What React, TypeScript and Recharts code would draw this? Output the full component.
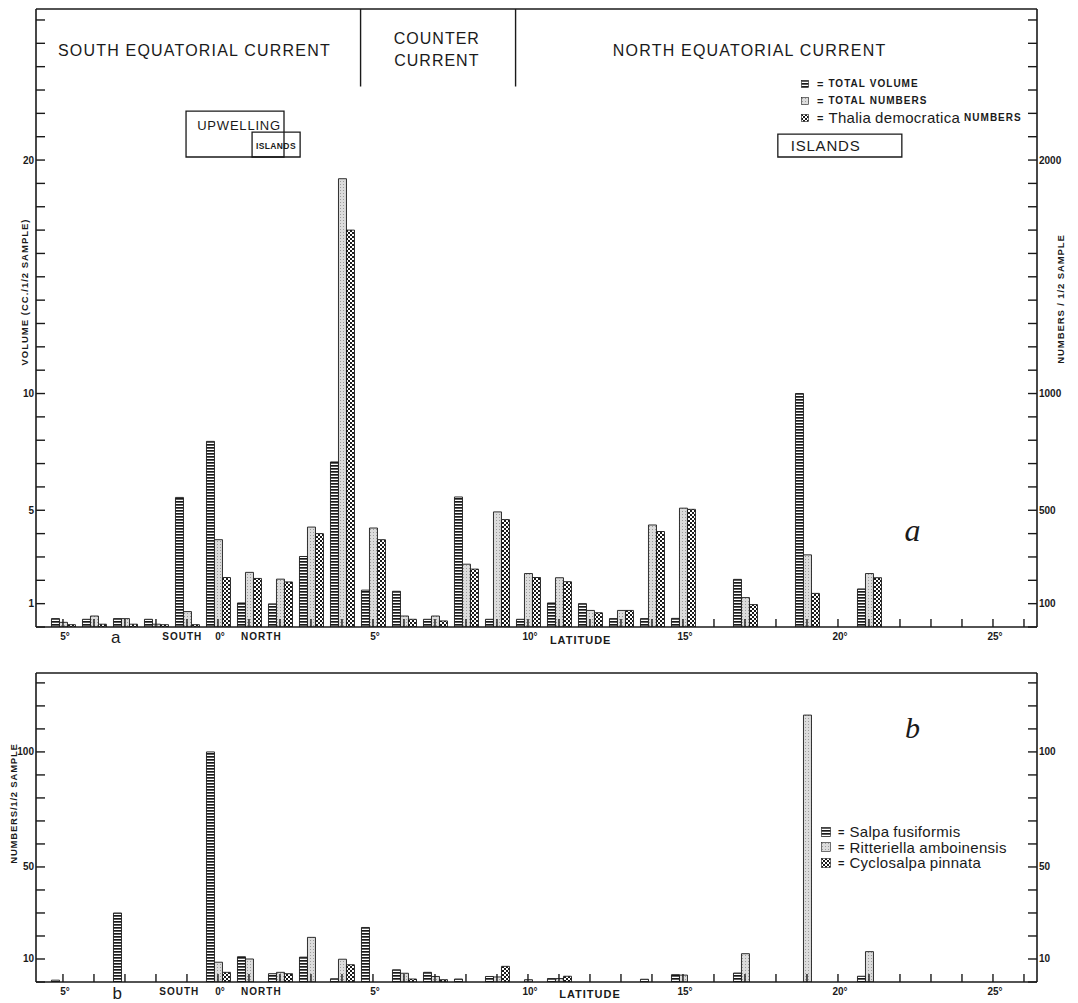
import React from 'react';
import { BarChart, Bar, XAxis, YAxis, ReferenceLine, ReferenceArea, ReferenceDot, Legend } from 'recharts';

// ---------- data ----------
const stations = [-5, -4, -3, -2, -1, 0, 1, 2, 3, 4, 5, 6, 7, 8, 9, 10, 11, 12, 13, 14, 15, 17, 19, 21];

// panel a
const totalVolume = [0.36, 0.33, 0.36, 0.33, 5.55, 7.95, 1.03, 0.99, 3.02, 7.07, 1.58, 1.53, 0.33, 5.57, 0.33, 0.33, 1.03, 1.0, 0.36, 0.36, 0.37, 2.04, 10.0, 1.63];
const totalNumbers = [20, 47, 36, 12, 66, 374, 234, 205, 428, 1920, 424, 47, 47, 269, 493, 229, 211, 71, 71, 437, 509, 126, 309, 229];
const thaliaNumbers = [10, 12, 12, 10, 10, 212, 208, 193, 400, 1700, 374, 33, 26, 248, 460, 212, 194, 61, 71, 409, 504, 96, 144, 211];

// panel b
const salpaFusiformis = [0.8, null, 30, null, null, 100, 11, 3.6, 10.8, 1.4, 23.7, 5.3, 4.2, 1.3, 2.4, null, 1.5, null, null, 1.2, 3.2, 3.9, null, 2.5];
const ritteriellaAmboinensis = [null, null, null, null, null, 8.6, 10, 4.2, 19.4, 9.9, null, 3.8, 2.4, null, 2.2, 1.0, 1.5, null, null, null, 3.0, 12.3, 116, 13.2];
const cyclosalpaPinnata = [null, null, null, null, null, 4.2, null, 3.6, null, 7.5, null, 1.3, 1.0, null, 6.8, null, 2.5, null, null, null, null, null, null, null];

// series names (legend order)
const seriesNamesA = ['TOTAL VOLUME', 'TOTAL NUMBERS', 'Thalia democratica NUMBERS'];
const seriesNamesB = ['Salpa fusiformis', 'Ritteriella amboinensis', 'Cyclosalpa pinnata'];

// axes
const latitudeTicks = [-5, -4, -3, -2, -1, 0, 1, 2, 3, 4, 5, 6, 7, 8, 9, 10, 11, 12, 13, 14, 15, 16, 17, 18, 19, 20, 21, 22, 23, 24, 25, 26];
const latitudeLabels: Record<number, string> = { [-5]: '5°', 0: '0°', 5: '5°', 10: '10°', 15: '15°', 20: '20°', 25: '25°' };
const volumeTicks = [0, 1, 2, 3, 4, 5, 6, 7, 8, 9, 10, 11, 12, 13, 14, 15, 16, 17, 18, 19, 20, 21, 22, 23, 24, 25, 26];
const volumeLabels: Record<number, string> = { 1: '1', 5: '5', 10: '10', 20: '20' };
const numberTicks = [0, 100, 200, 300, 400, 500, 600, 700, 800, 900, 1000, 1100, 1200, 1300, 1400, 1500, 1600, 1700, 1800, 1900, 2000, 2100, 2200, 2300, 2400, 2500, 2600];
const numberLabels: Record<number, string> = { 100: '100', 500: '500', 1000: '1000', 2000: '2000' };
const panelBTicks = [0, 10, 20, 30, 40, 50, 60, 70, 80, 90, 100, 110, 120, 130];
const panelBLabels: Record<number, string> = { 10: '10', 50: '50', 100: '100' };

const LAT_DOMAIN: [number, number] = [-5.87, 26.42];
const VOL_MAX = 26.47;
const NUM_MAX = 2647;
const B_MAX = 134.3;

const dataA = stations.map((lat, i) => ({ lat, vol: totalVolume[i], num: totalNumbers[i], thalia: thaliaNumbers[i] }));
const dataB = stations.map((lat, i) => ({ lat, salpa: salpaFusiformis[i], ritt: ritteriellaAmboinensis[i], cyclo: cyclosalpaPinnata[i] }));

// ---------- annotations ----------
const INK = '#1a1a1a';
const SANS = "'Liberation Sans', 'DejaVu Sans', sans-serif";
const SERIF = "'Liberation Serif', 'DejaVu Serif', serif";

type Note = { lat: number; v: number; text: string; size: number; weight?: number; spacing?: number; family?: string; italic?: boolean };

const headerNotes: Note[] = [
  { lat: -0.76, v: 24.69, text: 'SOUTH EQUATORIAL CURRENT', size: 16, spacing: 1.2 },
  { lat: 7.06, v: 25.2, text: 'COUNTER', size: 16, spacing: 1.0 },
  { lat: 7.06, v: 24.28, text: 'CURRENT', size: 16, spacing: 1.0 },
  { lat: 17.15, v: 24.69, text: 'NORTH EQUATORIAL CURRENT', size: 16, spacing: 1.2 },
  { lat: 0.68, v: 21.5, text: 'UPWELLING', size: 13, spacing: 0.8 },
  { lat: 1.87, v: 20.62, text: 'ISLANDS', size: 8.5, weight: 700, spacing: 0.4 },
  { lat: 19.6, v: 20.62, text: 'ISLANDS', size: 15, spacing: 0.8 },
  { lat: 22.4, v: 4.15, text: 'a', size: 32, family: SERIF, italic: true },
];
const panelBNotes: Note[] = [
  { lat: 22.4, v: 110.5, text: 'b', size: 30, family: SERIF, italic: true },
];
const dividers = [4.6, 9.6];
const DIVIDER_BOTTOM = 23.15;
const boxes = [
  { x1: -1.03, x2: 2.13, y1: 20.13, y2: 22.1 },
  { x1: 1.1, x2: 2.65, y1: 20.13, y2: 21.2 },
  { x1: 18.06, x2: 22.06, y1: 20.13, y2: 21.11 },
];
type Word = { lat: number; text: string; dy: number; size: number; weight?: number; spacing?: number; family?: string };
const axisWordsA: Word[] = [
  { lat: -1.15, text: 'SOUTH', dy: 13, size: 10, weight: 700, spacing: 1 },
  { lat: 1.4, text: 'NORTH', dy: 13, size: 10, weight: 700, spacing: 1 },
  { lat: 11.7, text: 'LATITUDE', dy: 17, size: 11, weight: 700, spacing: 1 },
  { lat: -3.3, text: 'a', dy: 16, size: 17, weight: 400 },
];
const axisWordsB: Word[] = [
  { lat: -1.25, text: 'SOUTH', dy: 13, size: 10, weight: 700, spacing: 1 },
  { lat: 1.4, text: 'NORTH', dy: 13, size: 10, weight: 700, spacing: 1 },
  { lat: 12.0, text: 'LATITUDE', dy: 16, size: 11, weight: 700, spacing: 1 },
  { lat: -3.25, text: 'b', dy: 17, size: 17, weight: 400 },
];

// ---------- helpers ----------
const vbCenter = (p: any) => {
  const vb = p && p.viewBox;
  if (!vb) return null;
  return { cx: vb.x + (vb.width || 0) / 2, cy: vb.y + (vb.height || 0) / 2 };
};

const noteLabel = (n: Note) => (p: any) => {
  const c = vbCenter(p);
  if (!c) return null;
  return (
    <text x={c.cx} y={c.cy} textAnchor="middle" dominantBaseline="central" fontFamily={n.family || SANS}
      fontSize={n.size} fontWeight={n.weight || 400} fontStyle={n.italic ? 'italic' : 'normal'}
      letterSpacing={n.spacing || 0} fill={INK}>{n.text}</text>
  );
};

const wordLabel = (w: Word) => (p: any) => {
  const c = vbCenter(p);
  if (!c) return null;
  return (
    <text x={c.cx} y={c.cy + w.dy} textAnchor="middle" fontFamily={w.family || SANS}
      fontSize={w.size} fontWeight={w.weight || 400} letterSpacing={w.spacing || 0} fill={INK}>{w.text}</text>
  );
};

const yTick = (labels: Record<number, string>, side: 'left' | 'right') => (props: any) => {
  const { x, y, payload } = props;
  const lab = labels[payload.value];
  const dir = side === 'left' ? 1 : -1;
  return (
    <g>
      <line x1={x} x2={x + dir * 9} y1={y} y2={y} stroke={INK} strokeWidth={1.4} />
      {lab ? (
        <text x={side === 'left' ? x - 2 : x + 2} y={y + 3.5} textAnchor={side === 'left' ? 'end' : 'start'}
          fontFamily={SANS} fontWeight={700} fontSize={10} fill={INK}>{lab}</text>
      ) : null}
    </g>
  );
};

const xTick = (labels: Record<number, string>) => (props: any) => {
  const { x, y, payload } = props;
  const lab = labels[payload.value];
  return (
    <g>
      <line x1={x} x2={x} y1={y} y2={y - 8} stroke={INK} strokeWidth={1.4} />
      {lab ? (
        <text x={x + 2} y={y + 13} textAnchor="middle" fontFamily={SANS} fontWeight={700} fontSize={10} fill={INK}>{lab}</text>
      ) : null}
    </g>
  );
};

const axisTitle = (text: string, cxOffset: number, dyOffset: number, size: number, spacing: number) => (p: any) => {
  const vb = p && p.viewBox;
  if (!vb) return null;
  const cx = vb.x + cxOffset;
  const cy = vb.y + vb.height / 2 + dyOffset;
  return (
    <text x={cx} y={cy} transform={`rotate(-90 ${cx} ${cy})`} textAnchor="middle" dominantBaseline="central"
      fontFamily={SANS} fontWeight={700} fontSize={size} letterSpacing={spacing} fill={INK}>{text}</text>
  );
};

const Patterns = ({ p }: { p: string }) => (
  <defs>
    <pattern id={`${p}-stripe`} width="4" height="3" patternUnits="userSpaceOnUse">
      <rect width="4" height="3" fill="#ffffff" />
      <rect width="4" height="1.7" fill="#1a1a1a" />
    </pattern>
    <pattern id={`${p}-stipple`} width="3" height="3" patternUnits="userSpaceOnUse">
      <rect width="3" height="3" fill="#dcdcdc" />
      <rect x="1" y="1" width="1" height="1" fill="#9c9c9c" />
    </pattern>
    <pattern id={`${p}-check`} width="4" height="4" patternUnits="userSpaceOnUse">
      <rect width="4" height="4" fill="#ffffff" />
      <rect width="2" height="2" fill="#1a1a1a" />
      <rect x="2" y="2" width="2" height="2" fill="#1a1a1a" />
    </pattern>
  </defs>
);

const nameParts = (name: string, small: boolean) =>
  name.split(' ').map((w, i) => {
    const upper = w === w.toUpperCase();
    return (
      <span key={i} style={{
        fontSize: upper && small ? 10 : 15,
        fontWeight: upper && small ? 700 : 400,
        letterSpacing: upper && small ? 1 : 0.3,
        marginRight: 4,
      }}>{w}</span>
    );
  });

const legendContent = (order: string[], rowH: number, icon: number, gap1: number, small: boolean) => (props: any) => {
  const payload = [...(props.payload || [])].sort(
    (a: any, b: any) => order.indexOf(String(a.value)) - order.indexOf(String(b.value)),
  );
  return (
    <div style={{ fontFamily: SANS, color: INK }}>
      {payload.map((e: any, i: number) => (
        <div key={i} style={{ display: 'flex', alignItems: 'center', height: rowH, whiteSpace: 'nowrap' }}>
          <svg width={icon} height={icon} style={{ display: 'block' }}>
            <rect x={0.5} y={0.5} width={icon - 1} height={icon - 1} fill={e.color} stroke={INK} strokeWidth={0.6} />
          </svg>
          <span style={{ fontSize: 11, fontWeight: 700, marginLeft: gap1, marginRight: 5 }}>=</span>
          {nameParts(String(e.value), small)}
        </div>
      ))}
    </div>
  );
};

// ---------- app ----------
export default function App() {
  return (
    <div style={{ position: 'absolute', left: 0, top: 0, width: 1078, height: 1003, background: '#fff', overflow: 'hidden' }}>
      <div style={{ position: 'absolute', left: 0, top: 0 }}>
        <BarChart width={1078} height={660} data={dataA} margin={{ top: 9, right: 0, bottom: 0, left: 0 }} barGap={0} barCategoryGap={0}>
          <Patterns p="pa" />
          <XAxis dataKey="lat" type="number" domain={LAT_DOMAIN} allowDataOverflow ticks={latitudeTicks} interval={0}
            height={33} tickSize={0} tickMargin={0} tickLine={false} axisLine={{ stroke: INK, strokeWidth: 1.6 }} tick={xTick(latitudeLabels)} />
          <YAxis yAxisId="vol" orientation="left" width={36} domain={[0, VOL_MAX]} allowDataOverflow ticks={volumeTicks} interval={0}
            tickSize={0} tickMargin={0} tickLine={false} axisLine={{ stroke: INK, strokeWidth: 1.6 }} tick={yTick(volumeLabels, 'left')}
            label={{ content: axisTitle('VOLUME (CC./1/2 SAMPLE)', 24, -26, 9.5, 1.0) }} />
          <YAxis yAxisId="num" orientation="right" width={41} domain={[0, NUM_MAX]} allowDataOverflow ticks={numberTicks} interval={0}
            tickSize={0} tickMargin={0} tickLine={false} axisLine={{ stroke: INK, strokeWidth: 1.6 }} tick={yTick(numberLabels, 'right')}
            label={{ content: axisTitle('NUMBERS / 1/2 SAMPLE', 23, -19, 9.5, 0.9) }} />
          <ReferenceLine yAxisId="vol" y={VOL_MAX} stroke={INK} strokeWidth={1.6} ifOverflow="visible" />
          {dividers.map((d, i) => (
            <ReferenceLine key={'d' + i} yAxisId="vol" segment={[{ x: d, y: VOL_MAX }, { x: d, y: DIVIDER_BOTTOM }]} stroke={INK} strokeWidth={1.4} ifOverflow="visible" />
          ))}
          {boxes.map((b, i) => (
            <ReferenceArea key={'b' + i} yAxisId="vol" x1={b.x1} x2={b.x2} y1={b.y1} y2={b.y2} fill="none" fillOpacity={0} stroke={INK} strokeWidth={1.3} ifOverflow="visible" />
          ))}
          {headerNotes.map((n, i) => (
            <ReferenceDot key={'n' + i} yAxisId="vol" x={n.lat} y={n.v} r={0} fill="none" stroke="none" ifOverflow="visible" label={{ content: noteLabel(n) }} />
          ))}
          {axisWordsA.map((w, i) => (
            <ReferenceDot key={'w' + i} yAxisId="vol" x={w.lat} y={0} r={0} fill="none" stroke="none" ifOverflow="visible" label={{ content: wordLabel(w) }} />
          ))}
          <Legend layout="vertical" align="center" verticalAlign="middle" wrapperStyle={{ left: 801, top: 75, width: 240 }}
            content={legendContent(seriesNamesA, 17, 8, 8, true)} />
          <Bar name={seriesNamesA[0]} dataKey="vol" yAxisId="vol" barSize={8} fill="url(#pa-stripe)" stroke={INK} strokeWidth={0.9} isAnimationActive={false} />
          <Bar name={seriesNamesA[1]} dataKey="num" yAxisId="num" barSize={8} fill="url(#pa-stipple)" stroke={INK} strokeWidth={0.9} isAnimationActive={false} />
          <Bar name={seriesNamesA[2]} dataKey="thalia" yAxisId="num" barSize={8} fill="url(#pa-check)" stroke={INK} strokeWidth={0.9} isAnimationActive={false} />
        </BarChart>
      </div>
      <div style={{ position: 'absolute', left: 0, top: 660 }}>
        <BarChart width={1078} height={343} data={dataB} margin={{ top: 13, right: 0, bottom: 0, left: 0 }} barGap={0} barCategoryGap={0}>
          <Patterns p="pb" />
          <XAxis dataKey="lat" type="number" domain={LAT_DOMAIN} allowDataOverflow ticks={latitudeTicks} interval={0}
            height={21} tickSize={0} tickMargin={0} tickLine={false} axisLine={{ stroke: INK, strokeWidth: 1.6 }} tick={xTick(latitudeLabels)} />
          <YAxis yAxisId="l" orientation="left" width={36} domain={[0, B_MAX]} allowDataOverflow ticks={panelBTicks} interval={0}
            tickSize={0} tickMargin={0} tickLine={false} axisLine={{ stroke: INK, strokeWidth: 1.6 }} tick={yTick(panelBLabels, 'left')}
            label={{ content: axisTitle('NUMBERS/1/2 SAMPLE', 13, -24, 9.5, 0.8) }} />
          <YAxis yAxisId="r" orientation="right" width={41} domain={[0, B_MAX]} allowDataOverflow ticks={panelBTicks} interval={0}
            tickSize={0} tickMargin={0} tickLine={false} axisLine={{ stroke: INK, strokeWidth: 1.6 }} tick={yTick(panelBLabels, 'right')} />
          <ReferenceLine yAxisId="l" y={B_MAX} stroke={INK} strokeWidth={1.6} ifOverflow="visible" />
          {panelBNotes.map((n, i) => (
            <ReferenceDot key={'n' + i} yAxisId="l" x={n.lat} y={n.v} r={0} fill="none" stroke="none" ifOverflow="visible" label={{ content: noteLabel(n) }} />
          ))}
          {axisWordsB.map((w, i) => (
            <ReferenceDot key={'w' + i} yAxisId="l" x={w.lat} y={0} r={0} fill="none" stroke="none" ifOverflow="visible" label={{ content: wordLabel(w) }} />
          ))}
          <Legend layout="vertical" align="center" verticalAlign="middle" wrapperStyle={{ left: 821, top: 164, width: 230 }}
            content={legendContent(seriesNamesB, 15.5, 10, 7, false)} />
          <Bar name={seriesNamesB[0]} dataKey="salpa" yAxisId="l" barSize={8} fill="url(#pb-stripe)" stroke={INK} strokeWidth={0.9} isAnimationActive={false} />
          <Bar name={seriesNamesB[1]} dataKey="ritt" yAxisId="l" barSize={8} fill="url(#pb-stipple)" stroke={INK} strokeWidth={0.9} isAnimationActive={false} />
          <Bar name={seriesNamesB[2]} dataKey="cyclo" yAxisId="l" barSize={8} fill="url(#pb-check)" stroke={INK} strokeWidth={0.9} isAnimationActive={false} />
        </BarChart>
      </div>
    </div>
  );
}
